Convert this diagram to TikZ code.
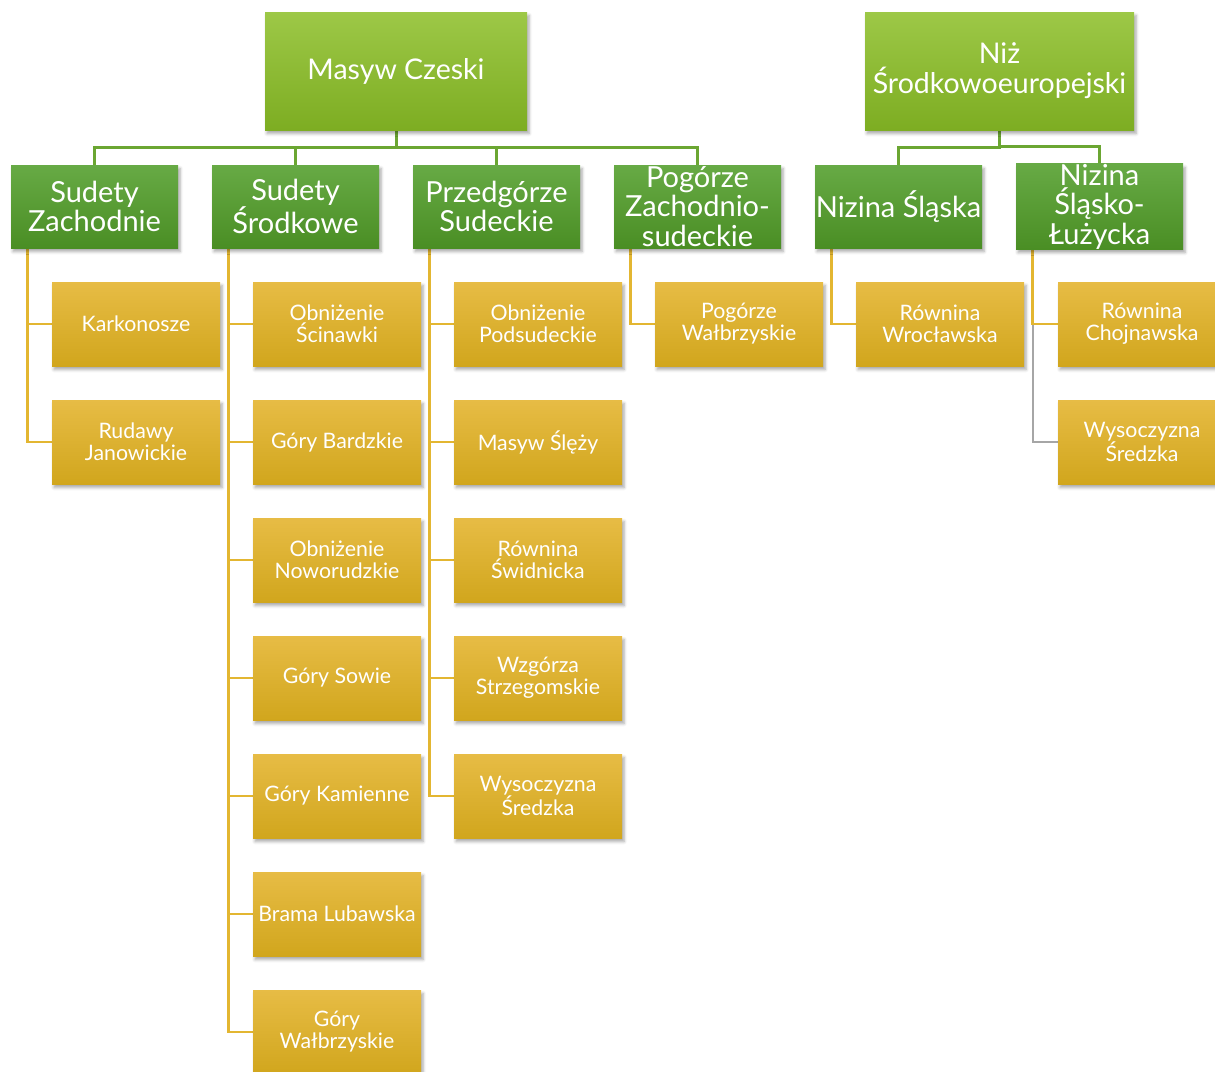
\documentclass[tikz,border=0pt]{standalone}
\usepackage{fontspec}
\setmainfont{Lato}
\usetikzlibrary{shadows,shadows.blur,backgrounds}
\definecolor{topA}{HTML}{9DC847}
\definecolor{topB}{HTML}{7DAD22}
\definecolor{midA}{HTML}{67AA45}
\definecolor{midB}{HTML}{4A8E24}
\definecolor{lowA}{HTML}{E7BC45}
\definecolor{lowB}{HTML}{D1A61D}
\definecolor{lineG}{HTML}{6BA632}
\definecolor{lineY}{HTML}{E3B631}
\definecolor{lineGr}{HTML}{A6A6A6}
\tikzset{
  shad/.style={blur shadow={shadow xshift=2pt,shadow yshift=-3.5pt,shadow blur radius=3pt,shadow opacity=35}},
  topbox/.style={shad,minimum width=262pt,minimum height=118pt,inner sep=0pt,
    top color=topA,bottom color=topB,draw=none,text=white,align=center,
    font=\fontsize{28.5}{30}\selectfont},
  midbox/.style={shad,minimum width=167pt,minimum height=83pt,inner sep=0pt,
    top color=midA,bottom color=midB,draw=none,text=white,align=center,
    font=\fontsize{29}{29.5}\selectfont},
  lowbox/.style={shad,minimum width=168pt,minimum height=84pt,inner sep=0pt,
    top color=lowA,bottom color=lowB,draw=none,text=white,align=center,
    font=\fontsize{21.3}{22}\selectfont},
  gline/.style={draw=lineG,line width=3pt},
  yline/.style={draw=lineY,line width=2.8pt},
  grline/.style={draw=lineGr,line width=1.6pt},
}
\begin{document}
\begin{tikzpicture}[x=1pt,y=-1pt]
\useasboundingbox (0,0) rectangle (1215,1071);
\clip (0,0) rectangle (1215,1071);
% top level
\node[topbox] (mc) at (396,71) {Masyw Czeski};
\node[topbox,minimum width=269pt] (nz) at (999.5,71) {Niż\\Środkowoeuropejski};
% second level
\node[midbox] (sz) at (94.5,206.5) {Sudety\\Zachodnie};
\node[midbox] (ss) at (295.5,206.5) {Sudety\\Środkowe};
\node[midbox] (ps) at (496.5,206.5) {Przedgórze\\Sudeckie};
\node[midbox] (pz) at (697.5,206.5) {Pogórze\\Zachodnio-\\sudeckie};
\node[midbox] (ns) at (898.5,206.5) {Nizina Śląska};
\node[midbox] (nl) at (1099.5,206.5) {Nizina\\Śląsko-\\Łużycka};
% column 1
\node[lowbox] (a1) at (136,324) {Karkonosze};
\node[lowbox] (a2) at (136,442) {Rudawy\\Janowickie};
% column 2
\node[lowbox] (b1) at (337,324) {Obniżenie\\Ścinawki};
\node[lowbox] (b2) at (337,442) {Góry Bardzkie};
\node[lowbox] (b3) at (337,560) {Obniżenie\\Noworudzkie};
\node[lowbox] (b4) at (337,678) {Góry Sowie};
\node[lowbox] (b5) at (337,796) {Góry Kamienne};
\node[lowbox] (b6) at (337,914) {Brama Lubawska};
\node[lowbox] (b7) at (337,1032) {Góry\\Wałbrzyskie};
% column 3
\node[lowbox] (c1) at (538,324) {Obniżenie\\Podsudeckie};
\node[lowbox] (c2) at (538,442) {Masyw Ślęży};
\node[lowbox] (c3) at (538,560) {Równina\\Świdnicka};
\node[lowbox] (c4) at (538,678) {Wzgórza\\Strzegomskie};
\node[lowbox] (c5) at (538,796) {Wysoczyzna\\Średzka};
% column 4
\node[lowbox] (d1) at (739,324) {Pogórze\\Wałbrzyskie};
% column 5
\node[lowbox] (e1) at (940,324) {Równina\\Wrocławska};
% column 6
\node[lowbox] (f1) at (1142,324) {Równina\\Chojnawska};
\node[lowbox] (f2) at (1142,442) {Wysoczyzna\\Średzka};
% connectors
\begin{pgfonlayer}{background}
\foreach \c in {sz,ss,ps,pz}
  \draw[gline] (mc.south) |- ([yshift=17pt]\c.north) -- (\c.north);
\foreach \c in {ns,nl}
  \draw[gline] (nz.south) |- ([yshift=17pt]\c.north) -- (\c.north);
\foreach \c in {a1,a2}
  \draw[yline] ([xshift=17pt]sz.south west) |- (\c.west);
\foreach \c in {b1,b2,b3,b4,b5,b6,b7}
  \draw[yline] ([xshift=17pt]ss.south west) |- (\c.west);
\foreach \c in {c1,c2,c3,c4,c5}
  \draw[yline] ([xshift=17pt]ps.south west) |- (\c.west);
\draw[yline] ([xshift=17pt]pz.south west) |- (d1.west);
\draw[yline] ([xshift=17pt]ns.south west) |- (e1.west);
\draw[grline] ([xshift=17pt]nl.south west) |- (f2.west);
\draw[yline] ([xshift=17pt]nl.south west) |- (f1.west);
\end{pgfonlayer}
\end{tikzpicture}
\end{document}
